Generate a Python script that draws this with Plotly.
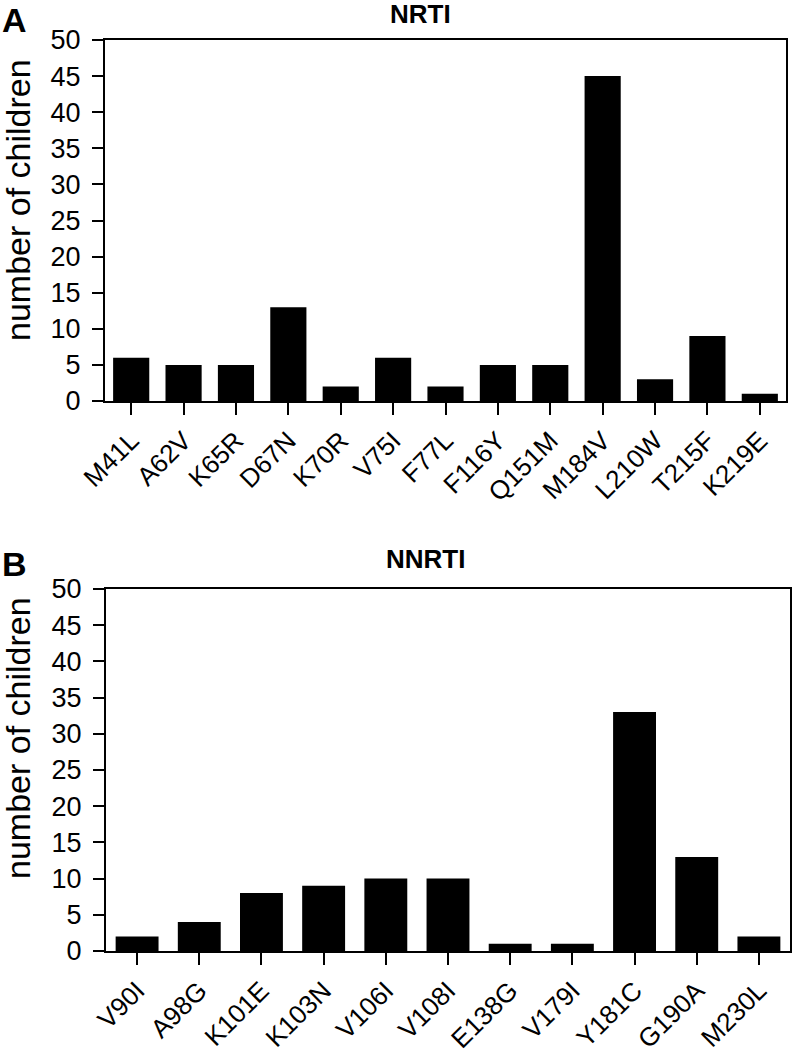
import plotly.graph_objects as go

W, H = 792, 1055

nrti_labels = ["M41L", "A62V", "K65R", "D67N", "K70R", "V75I", "F77L",
               "F116Y", "Q151M", "M184V", "L210W", "T215F", "K219E"]
nrti_values = [6, 5, 5, 13, 2, 6, 2, 5, 5, 45, 3, 9, 1]

nnrti_labels = ["V90I", "A98G", "K101E", "K103N", "V106I", "V108I",
                "E138G", "V179I", "Y181C", "G190A", "M230L"]
nnrti_values = [2, 4, 8, 9, 10, 10, 1, 1, 33, 13, 2]

y_ticks = [0, 5, 10, 15, 20, 25, 30, 35, 40, 45, 50]

FONT = "Arial, Liberation Sans, Helvetica, sans-serif"


def px_x(x):
    return x / W


def px_y(y):
    return 1 - y / H


fig = go.Figure()
fig.add_trace(go.Bar(x=nrti_labels, y=nrti_values, marker=dict(color="black", line=dict(width=0)),
                     xaxis="x", yaxis="y", showlegend=False))
fig.add_trace(go.Bar(x=nnrti_labels, y=nnrti_values, marker=dict(color="black", line=dict(width=0)),
                     xaxis="x2", yaxis="y2", showlegend=False))

common_x = dict(showline=True, linewidth=2, linecolor="black", mirror=True,
                ticks="outside", ticklen=12, tickwidth=2, tickcolor="black",
                tickangle=-45, ticklabelstandoff=0,
                tickfont=dict(family=FONT, size=26, color="black"),
                showgrid=False, zeroline=False, automargin=False)
common_y = dict(showline=True, linewidth=2, linecolor="black", mirror=True,
                ticks="outside", ticklen=11, tickwidth=2, tickcolor="black",
                range=[0, 50], tickvals=y_ticks, ticklabelstandoff=6,
                tickfont=dict(family=FONT, size=27, color="black"),
                showgrid=False, zeroline=False, automargin=False)

fig.update_layout(
    template="none",
    width=W, height=H,
    margin=dict(l=0, r=0, t=0, b=0, pad=0),
    paper_bgcolor="white", plot_bgcolor="white",
    bargap=0.31,
    xaxis=dict(domain=[px_x(105), px_x(786)], anchor="y", **common_x),
    yaxis=dict(domain=[px_y(401), px_y(40)], anchor="x", **common_y),
    xaxis2=dict(domain=[px_x(106), px_x(790)], anchor="y2", **common_x),
    yaxis2=dict(domain=[px_y(951), px_y(589)], anchor="x2", **common_y),
)

annotations = [
    dict(text="<b>A</b>", x=px_x(0), y=px_y(20), xanchor="left", yanchor="middle",
         font=dict(family=FONT, size=34, color="black")),
    dict(text="<b>B</b>", x=px_x(0), y=px_y(564), xanchor="left", yanchor="middle",
         font=dict(family=FONT, size=34, color="black")),
    dict(text="<b>NRTI</b>", x=px_x(420), y=px_y(14), xanchor="center", yanchor="middle",
         font=dict(family=FONT, size=26, color="black")),
    dict(text="<b>NNRTI</b>", x=px_x(425), y=px_y(559), xanchor="center", yanchor="middle",
         font=dict(family=FONT, size=26, color="black")),
    dict(text="number of children", x=px_x(18), y=px_y(200), xanchor="center", yanchor="middle",
         textangle=-90, font=dict(family=FONT, size=34, color="black")),
    dict(text="number of children", x=px_x(18), y=px_y(738), xanchor="center", yanchor="middle",
         textangle=-90, font=dict(family=FONT, size=34, color="black")),
]
for a in annotations:
    a.update(xref="paper", yref="paper", showarrow=False)
fig.update_layout(annotations=annotations)

fig.write_html("out.html", config={"displayModeBar": False},
               post_script="document.body.style.margin='0';")
